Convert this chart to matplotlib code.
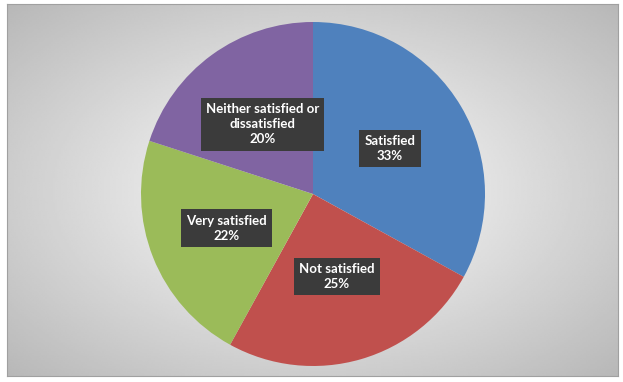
import matplotlib.pyplot as plt
import numpy as np

labels = ["Satisfied", "Not satisfied", "Very satisfied", "Neither satisfied or\ndissatisfied"]
values = [33, 25, 22, 20]
colors = ["#4F81BD", "#C0504D", "#9BBB59", "#8064A2"]

fig = plt.figure(figsize=(6.23, 3.82), dpi=100)

# radial gradient background inside a framed chart area
bg = fig.add_axes([7 / 623, 6 / 382, 611 / 623, 372 / 382])
yy, xx = np.mgrid[-1:1:200j, -1:1:300j]
rr = np.sqrt(xx ** 2 + yy ** 2) / np.sqrt(2)
bg.imshow(1 - 0.28 * rr, cmap="gray", vmin=0, vmax=1, aspect="auto",
          extent=[0, 1, 0, 1], interpolation="bilinear")
bg.set_xticks([])
bg.set_yticks([])
for s in bg.spines.values():
    s.set_color("#A0A0A0")
    s.set_linewidth(0.8)

ax = fig.add_axes([141 / 623, 16 / 382, 344 / 623, 344 / 382])
ax.set_facecolor("none")

wedges, _ = ax.pie(values, colors=colors, startangle=90, counterclock=False,
                   radius=1.0)
ax.set_xlim(-1, 1)
ax.set_ylim(-1, 1)
ax.set_aspect("auto")
ax.axis("off")

total = sum(values)
dists = [0.52, 0.5, 0.54, 0.5]
for w, lab, v, d in zip(wedges, labels, values, dists):
    ang = np.deg2rad((w.theta1 + w.theta2) / 2)
    x = d * np.cos(ang)
    y = d * np.sin(ang)
    ax.text(x, y, f"{lab}\n{round(100 * v / total)}%", ha="center", va="center",
            color="white", fontsize=9.5, fontweight="bold", family="Lato",
            linespacing=1.3,
            bbox=dict(boxstyle="square,pad=0.4", fc="#3B3B3B", ec="none"))

plt.savefig("out.png", dpi=100)
